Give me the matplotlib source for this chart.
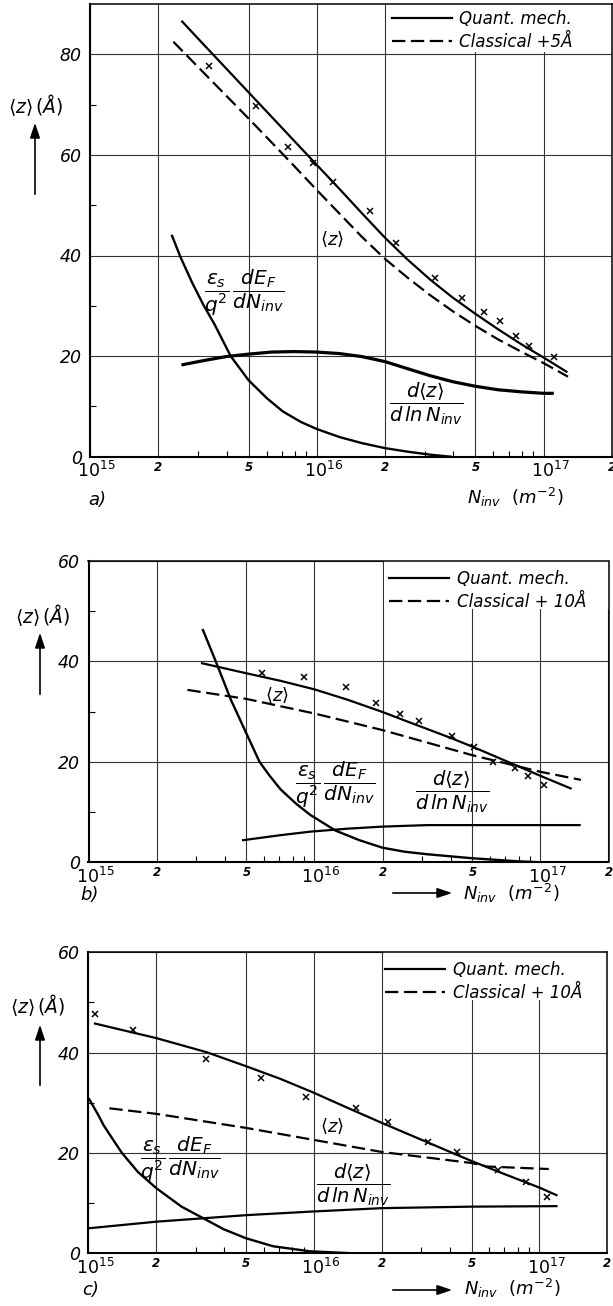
import matplotlib
matplotlib.use('Agg')
import matplotlib.pyplot as plt
from matplotlib.patches import Rectangle, FancyArrowPatch
from matplotlib.transforms import ScaledTranslation

plt.rcParams['font.family'] = 'DejaVu Sans'
plt.rcParams['mathtext.fontset'] = 'dejavusans'
plt.rcParams['mathtext.default'] = 'it'

# ---- panel a ----
qm_a_n = [2.55e15, 3.16e15, 3.98e15, 5.01e15, 6.31e15, 7.94e15, 1e16, 1.26e16, 1.58e16, 2e16, 2.51e16,
          3.16e16, 3.98e16, 5e16, 6.31e16, 7.94e16, 1e17, 1.26e17]
qm_a_z = [86.5, 82.0, 77.2, 72.4, 67.6, 62.8, 58.0, 53.2, 48.4, 43.5, 39.2, 35.2, 31.6, 28.4, 25.3, 22.4, 19.7, 16.9]
cl_a_n = [2.33e15, 3.16e15, 3.98e15, 5.01e15, 6.31e15, 7.94e15, 1e16, 1.26e16, 1.58e16, 2e16, 2.51e16,
          3.16e16, 3.98e16, 5e16, 6.31e16, 7.94e16, 1e17, 1.28e17]
cl_a_z = [82.5, 76.4, 71.8, 67.2, 62.5, 57.8, 53.0, 48.3, 43.7, 39.3, 35.6, 32.1, 28.9, 26.0, 23.3, 20.9, 18.6, 15.9]
es_a_n = [2.30e15, 2.51e15, 2.82e15, 3.16e15, 3.55e15, 4.17e15, 5e15, 6.03e15, 7.08e15, 8.51e15, 1e16,
          1.26e16, 1.58e16, 2e16, 2.51e16, 3.16e16, 3.89e16]
es_a_z = [43.9, 39.6, 34.6, 30.2, 26.2, 20.0, 15.2, 11.6, 9.0, 6.9, 5.5, 3.9, 2.7, 1.7, 1.0, 0.4, 0.0]
dz_a_n = [2.57e15, 3.16e15, 3.98e15, 5.01e15, 6.31e15, 7.94e15, 1e16, 1.26e16, 1.58e16, 2e16, 2.51e16,
          3.16e16, 3.98e16, 5e16, 6.31e16, 7.94e16, 1e17, 1.09e17]
dz_a_z = [18.3, 19.1, 19.9, 20.4, 20.8, 20.9, 20.8, 20.5, 19.9, 18.9, 17.5, 16.1, 14.9, 14.0, 13.3, 12.9, 12.6, 12.6]
pt_a_n = [3.35e15, 5.37e15, 7.43e15, 9.57e15, 1.175e16, 1.72e16, 2.23e16, 3.32e16, 4.38e16, 5.45e16,
          6.44e16, 7.55e16, 8.59e16, 1.107e17]
pt_a_z = [77.7, 69.7, 61.6, 58.3, 54.7, 48.9, 42.5, 35.6, 31.5, 28.8, 27.0, 24.0, 22.0, 19.8]

# ---- panel b ----
qm_b_n = [3.18e15, 5e15, 7.08e15, 1e16, 1.41e16, 2e16, 2.51e16, 3.16e16, 3.98e16, 5e16, 7.08e16, 1e17, 1.36e17]
qm_b_z = [39.6, 37.6, 36.1, 34.4, 32.3, 29.9, 28.2, 26.5, 24.8, 23.0, 20.1, 17.2, 14.7]
cl_b_n = [2.74e15, 5e15, 1e16, 2e16, 3.16e16, 5e16, 1e17, 1.51e17]
cl_b_z = [34.3, 32.5, 29.6, 26.3, 23.8, 21.3, 18.0, 16.4]
es_b_n = [3.21e15, 3.64e15, 4.27e15, 5e15, 5.71e15, 6.31e15, 7.08e15, 8.32e15, 9.6e15, 1.24e16, 1.58e16,
          2e16, 2.51e16, 3.16e16, 5e16, 7.94e16, 1e17]
es_b_z = [46.2, 40.2, 32.3, 25.6, 20.0, 17.3, 14.5, 11.6, 9.4, 6.3, 4.4, 2.9, 2.1, 1.6, 0.8, 0.2, 0.0]
dz_b_n = [4.83e15, 7.08e15, 9.6e15, 1.41e16, 2e16, 3.16e16, 1.49e17]
dz_b_z = [4.4, 5.4, 6.1, 6.7, 7.1, 7.4, 7.4]
pt_b_n = [5.86e15, 8.97e15, 1.38e16, 1.88e16, 2.40e16, 2.90e16, 4.06e16, 5.06e16, 6.14e16, 7.73e16,
          8.77e16, 1.04e17]
pt_b_z = [37.6, 36.9, 34.9, 31.6, 29.6, 28.1, 25.2, 23.0, 19.9, 18.7, 17.2, 15.4]

# ---- panel c ----
qm_c_n = [1.07e15, 2e15, 3.34e15, 5e15, 7.08e15, 1e16, 1.41e16, 2e16, 3.16e16, 5e16, 7.08e16, 1e17, 1.19e17]
qm_c_z = [45.8, 42.9, 40.1, 37.3, 34.8, 32.0, 29.0, 26.0, 22.2, 18.4, 15.7, 13.1, 11.6]
cl_c_n = [1.24e15, 2e15, 5e15, 1e16, 2e16, 5e16, 5.85e16, 1.1e17]
cl_c_z = [28.9, 27.8, 25.0, 22.6, 20.2, 18.0, 17.3, 16.8]
es_c_n = [1.01e15, 1.10e15, 1.17e15, 1.29e15, 1.41e15, 1.66e15, 2e15, 2.59e15, 3.23e15, 3.98e15, 5e15,
          6.6e15, 9.6e15, 1.41e16]
es_c_z = [30.7, 27.8, 25.5, 22.6, 20.0, 16.2, 13.0, 9.3, 7.0, 4.8, 3.0, 1.4, 0.4, 0.05]
dz_c_n = [1.01e15, 2e15, 5e15, 9.6e15, 2e16, 5e16, 1.19e17]
dz_c_z = [5.0, 6.3, 7.6, 8.3, 9.0, 9.3, 9.4]
pt_c_n = [1.07e15, 1.58e15, 3.34e15, 5.81e15, 9.25e15, 1.53e16, 2.13e16, 3.21e16, 4.32e16, 6.56e16,
          8.71e16, 1.08e17]
pt_c_z = [47.7, 44.5, 38.7, 34.9, 31.1, 28.9, 26.2, 22.2, 20.1, 16.6, 14.3, 11.2]

x_major = [1e15, 2e15, 5e15, 1e16, 2e16, 5e16, 1e17, 2e17]
x_major_labels = [r'$\mathit{10}^{\mathit{15}}$', '2', '5', r'$\mathit{10}^{\mathit{16}}$', '2', '5',
                  r'$\mathit{10}^{\mathit{17}}$', '2']
x_minor = [3e15, 4e15, 6e15, 7e15, 8e15, 9e15, 3e16, 4e16, 6e16, 7e16, 8e16, 9e16]

es_text = r'$\dfrac{\varepsilon_s}{q^2}\,\dfrac{dE_F}{dN_{inv}}$'
dz_text = r'$\dfrac{d\langle z\rangle}{d\,ln\,N_{inv}}$'

W, H = 613, 1306
fig = plt.figure(figsize=(W / 100, H / 100), dpi=100)
shift = ScaledTranslation(0.065, 0, fig.dpi_scale_trans)


def px_axes(left, top, right, bottom):
    return fig.add_axes([left / W, 1 - bottom / H, (right - left) / W, (bottom - top) / H])


def draw_panel(ax, ymax, qm, cl, es, dz, pts, cl_label, lab_z, lab_es, lab_dz, leg_anchor, dz_lw=1.6):
    ax.set_xscale('log')
    ax.set_xlim(1e15, 2e17)
    ax.set_ylim(0, ymax)
    ax.set_axisbelow(True)

    ax.set_xticks(x_major)
    ax.set_xticklabels(x_major_labels)
    ax.set_xticks(x_minor, minor=True)
    ax.xaxis.set_minor_formatter(plt.NullFormatter())
    yt = list(range(0, ymax, 20)) if ymax == 90 else list(range(0, ymax + 1, 20))
    ax.set_yticks(yt)
    ax.set_yticklabels([str(v) for v in yt], fontsize=12.5, fontstyle='italic')
    ax.set_yticks(list(range(10, ymax, 20)), minor=True)
    ax.tick_params(which='major', length=0, pad=3)
    ax.tick_params(axis='y', which='major', pad=6)
    ax.tick_params(which='minor', direction='in', length=4, width=0.8)
    for t in ax.get_xticklabels():
        if '10' in t.get_text():
            t.set_fontsize(12.5)
            t.set_transform(t.get_transform() + shift)
        else:
            t.set_fontsize(8.5)
            t.set_fontstyle('italic')
            t.set_fontweight('bold')
    ax.grid(which='major', color='0.2', lw=0.8)
    for s in ['left', 'bottom']:
        ax.spines[s].set_linewidth(1.5)
    for s in ['top', 'right']:
        ax.spines[s].set_linewidth(1.1)

    # white box behind legend
    ax.add_patch(Rectangle((2.04e16, ymax - 9.6), 3e17, 12, facecolor='white', edgecolor='none', zorder=1))

    l1, = ax.plot(qm[0], qm[1], color='k', lw=1.6, label='Quant. mech.', zorder=3)
    l2, = ax.plot(cl[0], cl[1], color='k', lw=1.6, ls=(0, (6, 2.5)), label=cl_label, zorder=3)
    ax.plot(es[0], es[1], color='k', lw=1.7, zorder=3)
    ax.plot(dz[0], dz[1], color='k', lw=dz_lw, zorder=3)
    ax.plot(pts[0], pts[1], 'x', color='k', ms=5, mew=1.1, zorder=4)

    ax.text(lab_z[0], lab_z[1], r'$\langle z\rangle$', fontsize=13, ha='center', va='center')
    ax.text(lab_es[0], lab_es[1], es_text, fontsize=14.5, ha='center', va='center')
    ax.text(lab_dz[0], lab_dz[1], dz_text, fontsize=14, ha='center', va='center')

    leg = ax.legend(handles=[l1, l2], loc='upper left', bbox_to_anchor=leg_anchor, frameon=False,
                    handlelength=3.6, handletextpad=0.45, labelspacing=0.3, borderpad=0,
                    borderaxespad=0, prop={'size': 12, 'style': 'italic'})
    leg.set_zorder(5)


ax_a = px_axes(90, 4, 612, 456.7)
draw_panel(ax_a, 90, (qm_a_n, qm_a_z), (cl_a_n, cl_a_z), (es_a_n, es_a_z), (dz_a_n, dz_a_z),
           (pt_a_n, pt_a_z), 'Classical +5Å', (1.17e16, 43.1), (4.8e15, 32.5), (3.04e16, 10.5),
           (0.578, 0.987), dz_lw=2.3)

ax_b = px_axes(88.5, 560.7, 608.5, 862.3)
draw_panel(ax_b, 60, (qm_b_n, qm_b_z), (cl_b_n, cl_b_z), (es_b_n, es_b_z), (dz_b_n, dz_b_z),
           (pt_b_n, pt_b_z), 'Classical + 10Å', (6.84e15, 33.1), (1.24e16, 15.3), (4.07e16, 14.1),
           (0.578, 0.970))

ax_c = px_axes(88.3, 952.3, 607.3, 1253.3)
draw_panel(ax_c, 60, (qm_c_n, qm_c_z), (cl_c_n, cl_c_z), (es_c_n, es_c_z), (dz_c_n, dz_c_z),
           (pt_c_n, pt_c_z), 'Classical + 10Å', (1.2e16, 25.2), (2.57e15, 18.6), (1.49e16, 13.6),
           (0.572, 0.972))


def ftext(x, y, s, **kw):
    fig.text(x / W, 1 - y / H, s, ha='center', va='center', **kw)


def farrow(x0, y0, x1, y1):
    fig.add_artist(FancyArrowPatch(
        (x0 / W, 1 - y0 / H), (x1 / W, 1 - y1 / H), transform=fig.transFigure,
        arrowstyle='-|>,head_length=6,head_width=2', lw=1.2, color='k', mutation_scale=1.5))


zlabel = r'$\langle z\rangle\,(\AA)$'
for (lx, ly), (ax0, ay0, ay1) in zip([(36, 105), (43, 615), (38, 1005)],
                                     [(35, 197, 120), (40, 697, 630), (40, 1088, 1022)]):
    ftext(lx, ly, zlabel, fontsize=13.5)
    farrow(ax0, ay0, ax0, ay1)

nlabel = r'$N_{inv}\ \ (m^{-2})$'
ftext(515, 497, nlabel, fontsize=13)
ftext(511, 893, nlabel, fontsize=13)
ftext(512, 1288, nlabel, fontsize=13)
farrow(390, 893, 455, 893)
farrow(390, 1290, 455, 1290)

ftext(97, 500, 'a)', fontsize=13, fontstyle='italic')
ftext(90, 895, 'b)', fontsize=13, fontstyle='italic')
ftext(91, 1290, 'c)', fontsize=13, fontstyle='italic')

fig.savefig('out.png', dpi=100)
